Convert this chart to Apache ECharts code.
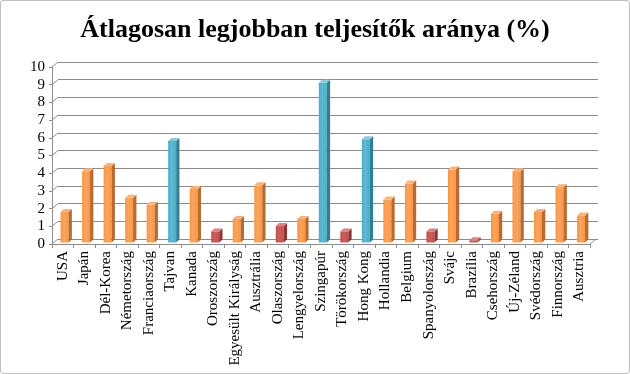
<!DOCTYPE html>
<html>
<head>
<meta charset="utf-8">
<script src="https://cdn.jsdelivr.net/npm/echarts@6/dist/echarts.min.js"></script>
<style>
html,body{margin:0;padding:0;background:#fff;}
#wrap{position:absolute;left:0;top:0;width:628px;height:372px;border:1px solid #bfbfbf;border-radius:3px;}
#chart{position:absolute;left:0;top:0;width:630px;height:374px;}
</style>
</head>
<body>
<div id="wrap"></div>
<div id="chart"></div>
<script>
var titleText = 'Átlagosan legjobban teljesítők aránya (%)';
var categories = ['USA','Japán','Dél-Korea','Németország','Franciaország','Tajvan','Kanada','Oroszország','Egyesült Királyság','Ausztrália','Olaszország','Lengyelország','Szingapúr','Törökország','Hong Kong','Hollandia','Belgium','Spanyolország','Svájc','Brazília','Csehország','Új-Zéland','Svédország','Finnország','Ausztria'];
var values = [1.7, 4.0, 4.3, 2.5, 2.1, 5.7, 3.0, 0.6, 1.3, 3.2, 0.9, 1.3, 9.0, 0.6, 5.8, 2.4, 3.3, 0.6, 4.1, 0.1, 1.6, 4.0, 1.7, 3.1, 1.5];
var groups = ['o','o','o','o','o','b','o','r','o','o','r','o','b','r','b','o','o','r','o','r','o','o','o','o','o'];
var yTicks = [0,1,2,3,4,5,6,7,8,9,10];

var palette = {
  o: {front:'#F79646', light:'#FBA55E', side:'#BA6A2E', top:'#F9B27C'},
  b: {front:'#4BACC6', light:'#5DBBD3', side:'#307F94', top:'#8ACAD9'},
  r: {front:'#C0504D', light:'#CC5E5B', side:'#8A3533', top:'#D88482'}
};

var chart = echarts.init(document.getElementById('chart'), null, {renderer:'canvas'});

var DX = 6, DY = 5; // depth offset of the back wall

var barData = values.map(function(v, i){ return [i, v, i]; });

var option = {
  animation: false,
  title: {
    text: titleText, left: 'center', top: 12,
    textStyle: {fontFamily: 'Liberation Serif', fontWeight: 'bold', fontSize: 26, color: '#000'}
  },
  grid: [
    {left: 52, right: 40, top: 67, bottom: 130},
    {left: 58, right: 32, top: 62, bottom: 135}
  ],
  xAxis: [
    {type: 'category', gridIndex: 0, data: categories, boundaryGap: true,
     axisLine: {lineStyle: {color: '#8c8c8c'}},
     axisTick: {show: true, interval: 0, length: 4, lineStyle: {color: '#8c8c8c'}},
     axisLabel: {interval: 0, rotate: 90, margin: 7, fontFamily: 'Liberation Serif', fontSize: 15, color: '#000'}},
    {type: 'category', gridIndex: 1, data: categories, show: false}
  ],
  yAxis: [
    {type: 'value', gridIndex: 0, min: 0, max: 10, interval: 1,
     axisLine: {show: true, lineStyle: {color: '#8c8c8c'}},
     axisTick: {show: true, length: 3, lineStyle: {color: '#8c8c8c'}},
     splitLine: {show: false},
     axisLabel: {margin: 7, fontFamily: 'Liberation Serif', fontSize: 15, color: '#000'}},
    {type: 'value', gridIndex: 1, min: 0, max: 10, interval: 1,
     axisLine: {show: false}, axisTick: {show: false}, axisLabel: {show: false},
     splitLine: {show: true, lineStyle: {color: '#8c8c8c', width: 1}}}
  ],
  series: [
    {
      type: 'custom', xAxisIndex: 0, yAxisIndex: 0, silent: true,
      data: yTicks.map(function(t){ return [0, t]; }),
      renderItem: function(params, api){
        var cs = params.coordSys;
        var y = api.coord([0, api.value(1)])[1];
        var children = [{type:'line', shape:{x1: cs.x, y1: y, x2: cs.x + DX, y2: y - DY}, style:{stroke:'#8c8c8c', lineWidth:1}}];
        if (api.value(1) === 0) {
          children.push({type:'line', shape:{x1: cs.x + cs.width, y1: y, x2: cs.x + cs.width + DX, y2: y - DY}, style:{stroke:'#8c8c8c', lineWidth:1}});
        }
        return {type:'group', children: children};
      }
    },
    {
      type: 'custom', xAxisIndex: 0, yAxisIndex: 0, silent: true,
      data: barData,
      renderItem: function(params, api){
        var i = api.value(0), v = api.value(1);
        var p0 = api.coord([i, 0]);
        var p1 = api.coord([i, v]);
        var c = palette[groups[api.value(2)]];
        var w = 8, sx = 3.3, sy = 3;
        var ox = 1.8;
        var xl = p0[0] + ox - w/2, xr = xl + w;
        var yb = p0[1] - 1.5, yt = p1[1] - 2;
        if (yt > yb - 1) yt = yb - 1;
        return {type:'group', children:[
          {type:'rect', shape:{x: xl, y: yt, width: w, height: yb - yt},
           style:{fill: new echarts.graphic.LinearGradient(0,0,1,0,[{offset:0,color:c.front},{offset:0.45,color:c.light},{offset:1,color:c.front}])}},
          {type:'polygon', shape:{points:[[xr, yt],[xr + sx, yt - sy],[xr + sx, yb - sy],[xr, yb]]}, style:{fill: c.side}},
          {type:'polygon', shape:{points:[[xl, yt],[xl + sx, yt - sy],[xr + sx, yt - sy],[xr, yt]]}, style:{fill: c.top}}
        ]};
      }
    }
  ]
};
chart.setOption(option);
</script>
</body>
</html>
